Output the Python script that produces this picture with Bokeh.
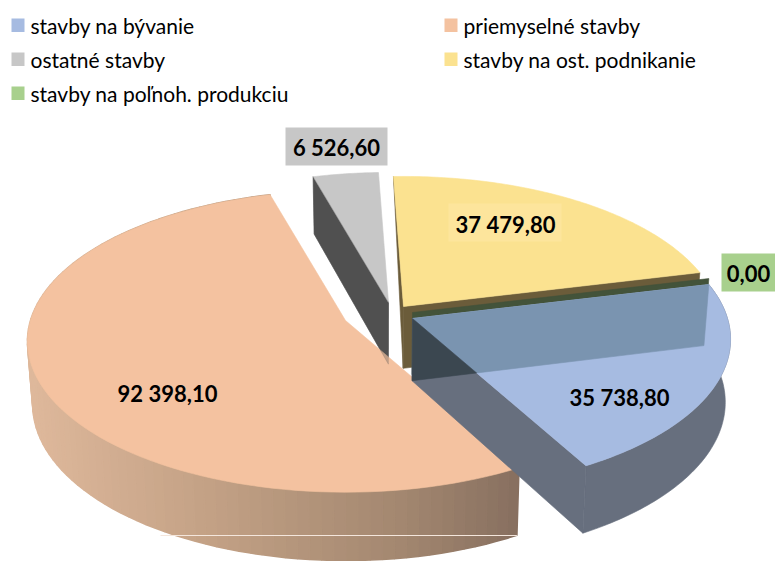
import math
from bokeh.plotting import figure
from bokeh.models import Range1d
from bokeh.core.properties import value
from bokeh.embed import file_html
from bokeh.resources import INLINE

# ---- data ----
categories = ["stavby na bývanie", "priemyselné stavby", "ostatné stavby",
              "stavby na ost. podnikanie", "stavby na poľnoh. produkciu"]
values = [35738.80, 92398.10, 6526.60, 37479.80, 0.00]

# ---- style / layout ----
FONT = "Lato"
TOP = ["#A6BBE1", "#F4C2A0", "#C7C7C7", "#FBE290", "#A8D08D"]
WALL_BLUE, WALL_BLUE_IN, WALL_BLUE_DARK = "#676F7E", "#7A94B0", "#3B4750"
WALL_GREY, WALL_YELLOW, WALL_GREEN = "#515151", "#6B5C3A", "#43533A"
W, H = 775, 561
OX, OY = 0, 0

CX, CY = 380, 311            # pie centre on screen
OFFSET = [(32, 7), (-35, 9), (8, -9), (23, -5), (32, 1)]   # explosion of each slice
A, B, P = 315.0, 148.0, 0.138   # ellipse axes and perspective
START = 76.3                    # first slice starts here, degrees clockwise from the top

def label(v):
    return f"{v:,.2f}".replace(",", " ").replace(".", ",")

def proj(apex, th, r=1.0):
    t = math.radians(th)
    X, Y = r * math.sin(t), r * math.cos(t)
    f = 1 / (1 + P * Y)
    return (apex[0] + A * X * f, apex[1] - B * Y * f)

def lower(pt):
    x, y = pt
    return (x - 0.015 * (x - CX), y + 62 + 0.035 * (y - CY))

def isect(p1, p2, p3, p4):
    d = (p1[0]-p2[0])*(p3[1]-p4[1]) - (p1[1]-p2[1])*(p3[0]-p4[0])
    a = p1[0]*p2[1]-p1[1]*p2[0]
    b = p3[0]*p4[1]-p3[1]*p4[0]
    return ((a*(p3[0]-p4[0])-(p1[0]-p2[0])*b)/d, (a*(p3[1]-p4[1])-(p1[1]-p2[1])*b)/d)

total = sum(values)
angles, cur = [], START
for v in values:
    nxt = cur + v / total * 360
    angles.append((cur, nxt))
    cur = nxt
apexes = [(CX + dx, CY + dy) for dx, dy in OFFSET]

def arc(i, n=90):
    t0, t1 = angles[i]
    return [proj(apexes[i], t0 + (t1 - t0) * k / n) for k in range(n + 1)]

p = figure(width=W, height=H, x_range=Range1d(OX, OX + W), y_range=Range1d(OY + H, OY),
           output_backend="svg", toolbar_location=None, min_border=0)
p.xaxis.visible = False
p.yaxis.visible = False
p.grid.visible = False
p.outline_line_color = None

def poly(pts, color, alpha=1.0, lw=0.6):
    p.patch([q[0] for q in pts], [q[1] for q in pts], fill_color=color, line_color=color,
            fill_alpha=alpha, line_alpha=alpha, line_width=lw)

# ---- ostatné stavby (grey) ----
ga = arc(2, 20)
g_wall = [ga[0], apexes[2], lower(apexes[2]), lower(ga[0])]
poly(g_wall, WALL_GREY)
poly([apexes[2]] + ga, TOP[2])

# ---- stavby na ost. podnikanie (yellow) ----
ya = arc(3)
poly([ya[0], apexes[3], lower(apexes[3])], WALL_YELLOW)
poly([apexes[3], ya[-1], lower(ya[-1]), lower(apexes[3])], WALL_YELLOW)
poly([apexes[3]] + ya, TOP[3])

# ---- stavby na poľnoh. produkciu (green): zero width, only its cut face shows ----
ge = proj(apexes[4], angles[4][0])
poly([apexes[4], ge, lower(ge), lower(apexes[4])], WALL_GREEN)

# ---- priemyselné stavby (orange) ----
STOPS = [(30, (222, 184, 155)), (200, (196, 162, 134)), (400, (163, 135, 112)), (515, (136, 112, 96))]
def wall_col(x):
    for (x0, c0), (x1, c1) in zip(STOPS, STOPS[1:]):
        if x <= x1:
            s = max(0, (x - x0) / (x1 - x0))
            return "#%02X%02X%02X" % tuple(round(c0[j] + (c1[j] - c0[j]) * s) for j in range(3))
    return "#%02X%02X%02X" % STOPS[-1][1]

oa = arc(1, 100)
for q0, q1 in zip(oa, oa[1:]):
    poly([q0, q1, lower(q1), lower(q0)], wall_col((q0[0] + q1[0]) / 2), lw=1.6)
poly([apexes[1]] + oa, TOP[1])
p.segment([160], [535], [lower(oa[0])[0]], [535], line_color="#F4E6DC", line_width=1)
poly(g_wall, WALL_GREY, 0.3)

# ---- stavby na bývanie (blue) ----
ba = arc(0)
a_, b_, c_ = apexes[0], ba[0], ba[-1]
a2, b2, c2 = lower(a_), lower(b_), lower(c_)
poly(ba + [lower(q) for q in reversed(ba)], WALL_BLUE)
poly([a_, c_, c2, a2], WALL_BLUE)
poly([a_] + ba, TOP[0])
m = isect(a2, b2, a_, c_)
poly([m, a_, b_, b2], WALL_BLUE_IN)
poly([a_, a2, m], WALL_BLUE_DARK)

# ---- data labels ----
LAB = [(619, 397, None), (167, 393, None), (336, 147, TOP[2]), (505, 224, "#FDE59C"), (748, 273, TOP[4])]
BOX = [None, None, (285, 127, 387, 165), (448, 203, 561, 241), (721, 253, 775, 291)]
for i, (x, y, col) in enumerate(LAB):
    if BOX[i]:
        x0, y0, x1, y1 = BOX[i]
        p.quad(left=[x0], right=[x1], top=[y0], bottom=[y1], fill_color=col, line_color=None)
    p.text([x], [y], text=[label(values[i])], text_font=value(FONT), text_font_style="bold",
           text_font_size="22px", text_color="#000000", text_align="center", text_baseline="middle")

# ---- legend ----
LEG_X = [11, 444, 11, 444, 11]
LEG_Y = [25, 25, 59, 59, 93]
for i, c in enumerate(categories):
    p.quad(left=[LEG_X[i]], right=[LEG_X[i] + 13], top=[LEG_Y[i] - 7], bottom=[LEG_Y[i] + 6.5],
           fill_color=TOP[i], line_color=None)
    p.text([LEG_X[i] + 19], [LEG_Y[i]], text=[c], text_font=value(FONT), text_font_size="21px",
           text_color="#000000", text_align="left", text_baseline="middle")

open("out.html", "w").write(file_html(p, INLINE))
